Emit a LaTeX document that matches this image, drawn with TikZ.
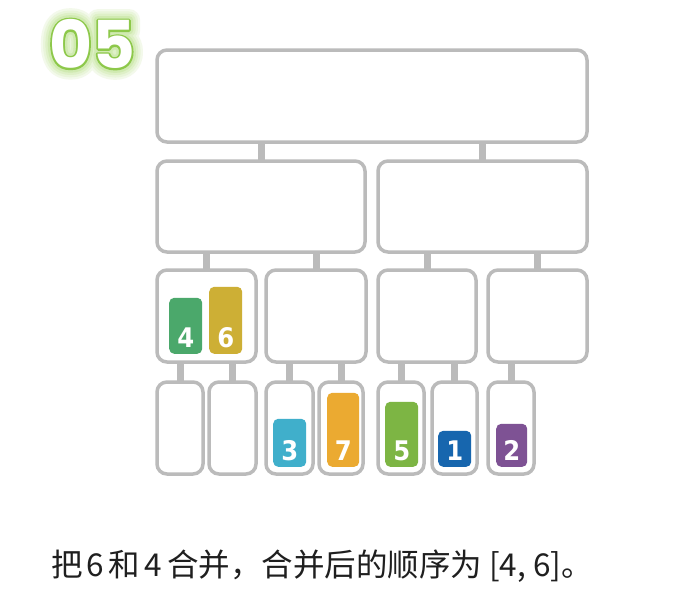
\documentclass[tikz,border=0pt]{standalone}
\usepackage{fontspec}
\newfontfamily\cjk{Noto Sans CJK SC}
\newfontfamily\digitfont{DejaVu Sans Condensed}
\newfontfamily\bigfont{Poppins}
\newfontfamily\glowa{Poppins}[BoldFeatures={FakeBold=34}]
\newfontfamily\glowb{Poppins}[BoldFeatures={FakeBold=27}]
\newfontfamily\glowc{Poppins}[BoldFeatures={FakeBold=20}]
\newfontfamily\glowd{Poppins}[BoldFeatures={FakeBold=13}]
\newfontfamily\glowe{Poppins}[BoldFeatures={FakeBold=5.5}]
\usetikzlibrary{positioning,calc}
\definecolor{boxgray}{HTML}{BBBBBB}
\definecolor{cfour}{HTML}{4BA86B}
\definecolor{csix}{HTML}{CDAF35}
\definecolor{cthree}{HTML}{40AFCB}
\definecolor{cseven}{HTML}{EBAA31}
\definecolor{cfive}{HTML}{7DB544}
\definecolor{cone}{HTML}{1766AE}
\definecolor{ctwo}{HTML}{7E5294}
\definecolor{lgreen}{HTML}{8DC84A}
\definecolor{glowa}{HTML}{F3F9EB}
\definecolor{glowb}{HTML}{E9F5DA}
\definecolor{glowc}{HTML}{DEF0C7}
\definecolor{glowd}{HTML}{D0EAB1}
\tikzset{
  box/.style={draw=boxgray, line width=3.5pt, rounded corners=10pt, fill=white, inner sep=0pt},
  conn/.style={draw=boxgray, line width=7pt},
  tile/.style={rounded corners=5pt, inner sep=0pt, anchor=south west},
  digit/.style={text=white, font=\digitfont\bfseries\fontsize{27}{27}\selectfont, anchor=base, inner sep=0pt},
  bigt/.style={inner sep=0pt, anchor=center},
}
\begin{document}
\begin{tikzpicture}[x=1pt,y=-1pt]
\useasboundingbox[fill=white] (0,0) rectangle (674,614);
% title
\begin{scope}[line join=round, line cap=round]
\node[bigt, text=glowa] (ttla) at (92,44) {\glowa\bfseries\fontsize{66}{66}\selectfont 05};
\node[bigt, text=glowb] (ttlb) at (92,44) {\glowb\bfseries\fontsize{66}{66}\selectfont 05};
\node[bigt, text=glowc] (ttlc) at (92,44) {\glowc\bfseries\fontsize{66}{66}\selectfont 05};
\node[bigt, text=glowd] (ttld) at (92,44) {\glowd\bfseries\fontsize{66}{66}\selectfont 05};
\node[bigt, text=lgreen] (ttle) at (92,44) {\glowe\bfseries\fontsize{66}{66}\selectfont 05};
\node[bigt, text=white] (ttl) at (92,44) {\bigfont\bfseries\fontsize{66}{66}\selectfont 05};
\end{scope}
% boxes
\node[box, minimum width=430pt, minimum height=92pt] (l1) at (372,96) {};
\node[box, minimum width=208pt, minimum height=91pt] (l2a) at (261,206.5) {};
\node[box, minimum width=209pt, minimum height=91pt] (l2b) at (482.5,206.5) {};
\node[box, minimum width=99pt, minimum height=92pt] (l3a) at (206.5,316) {};
\node[box, minimum width=100pt, minimum height=92pt] (l3b) at (316,316) {};
\node[box, minimum width=98pt, minimum height=92pt] (l3c) at (427,316) {};
\node[box, minimum width=99pt, minimum height=92pt] (l3d) at (537.5,316) {};
\node[box, minimum width=46pt, minimum height=92pt] (l4a) at (180,428) {};
\node[box, minimum width=47pt, minimum height=92pt] (l4b) at (232.5,428) {};
\node[box, minimum width=47pt, minimum height=92pt] (l4c) at (289.5,428) {};
\node[box, minimum width=44pt, minimum height=92pt] (l4d) at (341,428) {};
\node[box, minimum width=46pt, minimum height=92pt] (l4e) at (401,428) {};
\node[box, minimum width=45pt, minimum height=92pt] (l4f) at (454.5,428) {};
\node[box, minimum width=46pt, minimum height=92pt] (l4g) at (511,428) {};
% connectors
\draw[conn] ([yshift=-1.75pt]l2a.north) -- ([yshift=1.75pt]l2a.north |- l1.south);
\draw[conn] ([yshift=-1.75pt]l2b.north) -- ([yshift=1.75pt]l2b.north |- l1.south);
\draw[conn] ([yshift=-1.75pt]l3a.north) -- ([yshift=1.75pt]l3a.north |- l2a.south);
\draw[conn] ([yshift=-1.75pt]l3b.north) -- ([yshift=1.75pt]l3b.north |- l2a.south);
\draw[conn] ([yshift=-1.75pt]l3c.north) -- ([yshift=1.75pt]l3c.north |- l2b.south);
\draw[conn] ([yshift=-1.75pt]l3d.north) -- ([yshift=1.75pt]l3d.north |- l2b.south);
\draw[conn] ([yshift=-1.75pt]l4a.north) -- ([yshift=1.75pt]l4a.north |- l3a.south);
\draw[conn] ([yshift=-1.75pt]l4b.north) -- ([yshift=1.75pt]l4b.north |- l3a.south);
\draw[conn] ([yshift=-1.75pt]l4c.north) -- ([yshift=1.75pt]l4c.north |- l3b.south);
\draw[conn] ([yshift=-1.75pt]l4d.north) -- ([yshift=1.75pt]l4d.north |- l3b.south);
\draw[conn] ([yshift=-1.75pt]l4e.north) -- ([yshift=1.75pt]l4e.north |- l3c.south);
\draw[conn] ([yshift=-1.75pt]l4f.north) -- ([yshift=1.75pt]l4f.north |- l3c.south);
\draw[conn] ([yshift=-1.75pt]l4g.north) -- ([yshift=1.75pt]l4g.north |- l3d.south);
% tiles
\node[tile, fill=cfour, minimum width=33pt, minimum height=56pt] (t4) at (169,354) {};
\node[tile, fill=csix, minimum width=33pt, minimum height=67pt] (t6) at (209,354) {};
\node[tile, fill=cthree, minimum width=33pt, minimum height=48pt] (t3) at (273,467) {};
\node[tile, fill=cseven, minimum width=32pt, minimum height=74pt] (t7) at (327,467) {};
\node[tile, fill=cfive, minimum width=33pt, minimum height=65pt] (t5) at (385,467) {};
\node[tile, fill=cone, minimum width=33pt, minimum height=36pt] (t1) at (438,467) {};
\node[tile, fill=ctwo, minimum width=31pt, minimum height=43pt] (t2) at (496,467) {};
\node[digit] (d4) at ([yshift=7pt]t4.south) {4};
\node[digit] (d6) at ([yshift=7pt]t6.south) {6};
\node[digit] (d3) at ([yshift=7pt]t3.south) {3};
\node[digit] (d7) at ([yshift=7pt]t7.south) {7};
\node[digit] (d5) at ([yshift=7pt]t5.south) {5};
\node[digit] (d1) at ([yshift=7pt]t1.south) {1};
\node[digit] (d2) at ([yshift=7pt]t2.south) {2};
% caption
\node[anchor=west, inner sep=0pt, text=black!88] (cap) at (51,566) {\cjk\fontsize{31.5}{31.5}\selectfont 把\hspace{4pt}6\hspace{4pt}和\hspace{5pt}4\hspace{5pt}合并，合并后的顺序为 [4,\hspace{7pt}6]。};
\end{tikzpicture}
\end{document}
